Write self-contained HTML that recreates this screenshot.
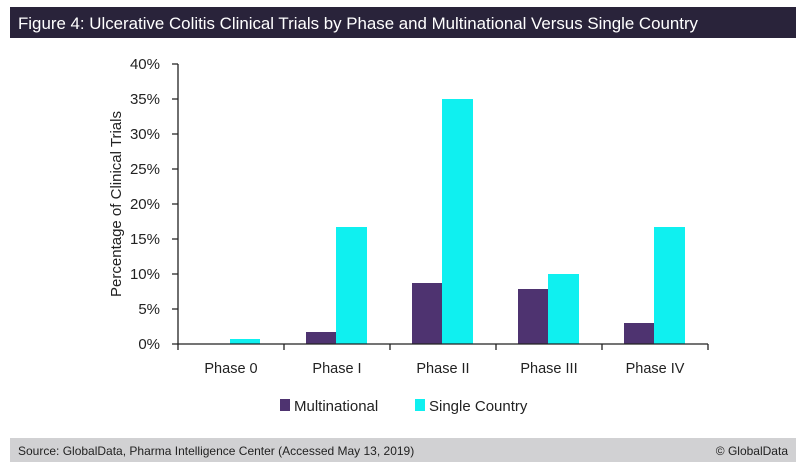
<!DOCTYPE html>
<html><head><style>
body{margin:0;background:#fff;width:804px;height:469px;overflow:hidden;font-family:"Liberation Sans",sans-serif}
</style></head><body>
<svg width="804" height="469" xmlns="http://www.w3.org/2000/svg" font-family="Liberation Sans, sans-serif">
<rect x="10" y="7" width="786" height="31" fill="#29233a"/>
<text x="18" y="29" fill="#fff" font-size="17" textLength="680" lengthAdjust="spacingAndGlyphs">Figure 4: Ulcerative Colitis Clinical Trials by Phase and Multinational Versus Single Country</text>
<rect x="10" y="438" width="786" height="24" fill="#d1d1d3"/>
<text x="18" y="455" fill="#222" font-size="12">Source: GlobalData, Pharma Intelligence Center (Accessed May 13, 2019)</text>
<text x="788" y="455" fill="#222" font-size="12" text-anchor="end">© GlobalData</text>
<g fill="#4e3370">
<rect x="306" y="332" width="30" height="12"/>
<rect x="412" y="283" width="30" height="61"/>
<rect x="518" y="289" width="30" height="55"/>
<rect x="624" y="323" width="30" height="21"/>
</g>
<g fill="#0ff0f0">
<rect x="230" y="339" width="30" height="5"/>
<rect x="336" y="227" width="31" height="117"/>
<rect x="442" y="99" width="31" height="245"/>
<rect x="548" y="274" width="31" height="70"/>
<rect x="654" y="227" width="31" height="117"/>
</g>
<g stroke="#222" stroke-width="1.3" fill="none">
<path d="M178 64V344H708"/>
<path d="M172 64H178M172 99H178M172 134H178M172 169H178M172 204H178M172 239H178M172 274H178M172 309H178M172 344H178"/>
<path d="M178 344V350M284 344V350M390 344V350M496 344V350M602 344V350M708 344V350"/>
</g>
<g font-size="15" fill="#222" text-anchor="end">
<text x="160" y="69">40%</text><text x="160" y="104">35%</text><text x="160" y="139">30%</text>
<text x="160" y="174">25%</text><text x="160" y="209">20%</text><text x="160" y="244">15%</text>
<text x="160" y="279">10%</text><text x="160" y="314">5%</text><text x="160" y="349">0%</text>
</g>
<g font-size="14.5" fill="#222" text-anchor="middle">
<text x="231" y="373">Phase 0</text><text x="337" y="373">Phase I</text><text x="443" y="373">Phase II</text>
<text x="549" y="373">Phase III</text><text x="655" y="373">Phase IV</text>
</g>
<text transform="translate(121 204) rotate(-90)" font-size="15" fill="#222" text-anchor="middle">Percentage of Clinical Trials</text>
<rect x="280" y="399" width="10" height="12" fill="#4e3370"/>
<text x="294" y="411" font-size="15" fill="#222">Multinational</text>
<rect x="415" y="399" width="10" height="12" fill="#0ff0f0"/>
<text x="429" y="411" font-size="15" fill="#222">Single Country</text>
</svg>
</body></html>
